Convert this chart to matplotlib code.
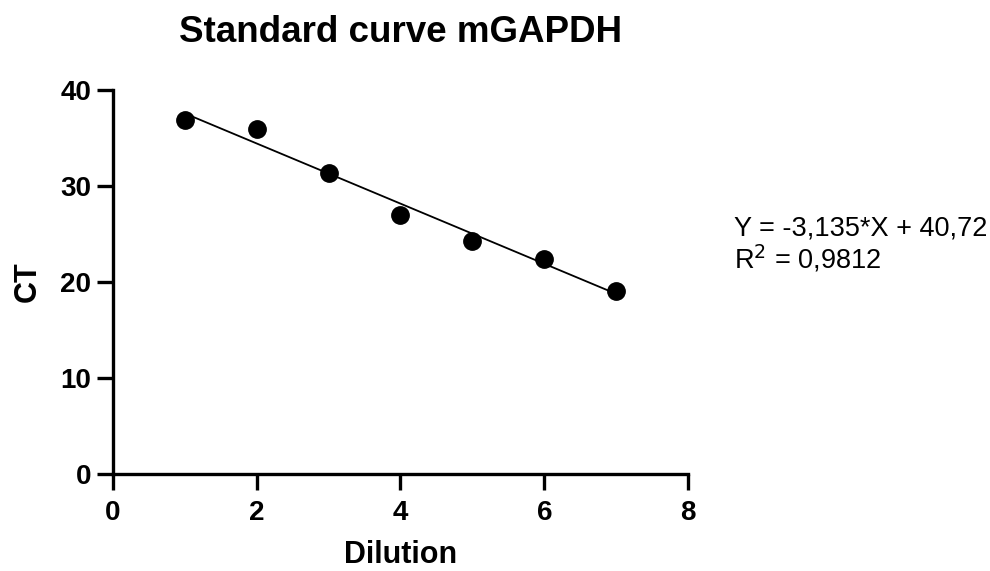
import numpy as np
import matplotlib.pyplot as plt

plt.rcParams['font.family'] = ['Liberation Sans', 'DejaVu Sans']

# données
dilution = [1, 2, 3, 4, 5, 6, 7]
ct = [36.9, 36.0, 31.35, 26.95, 24.25, 22.4, 19.1]
slope, intercept = -3.135, 40.72
r2 = 0.9812
xticks = [0, 2, 4, 6, 8]
yticks = [0, 10, 20, 30, 40]

fig = plt.figure(figsize=(9.9, 5.71), dpi=100)
ax = fig.add_axes([0.114, 0.170, 0.581, 0.672])

# droite de régression
xfit = np.array([dilution[0], dilution[-1]])
ax.plot(xfit, slope * xfit + intercept, color='black', lw=1.3, zorder=2)
ax.plot(dilution, ct, 'o', color='black', ms=12.5, zorder=3)

ax.set_xlim(0, 8)
ax.set_ylim(0, 40)
ax.set_xticks(xticks)
ax.set_yticks(yticks)
for s in ['top', 'right']:
    ax.spines[s].set_visible(False)
for s in ['left', 'bottom']:
    ax.spines[s].set_linewidth(2.4)
ax.tick_params(width=2.4, length=11.5, labelsize=20)
ax.tick_params(axis='x', pad=7)
ax.tick_params(axis='y', pad=4)
for lab in ax.get_xticklabels() + ax.get_yticklabels():
    lab.set_fontweight('bold')

ax.set_xlabel('Dilution', fontsize=22, fontweight='bold', labelpad=10)
ax.set_ylabel('CT', fontsize=22, fontweight='bold', labelpad=13)
ax.set_title('Standard curve mGAPDH', fontsize=26.5, fontweight='bold', pad=35)

eq = 'Y = ' + f'{slope:.3f}'.replace('.', ',') + '*X + ' + f'{intercept:.2f}'.replace('.', ',')
fig.text(0.741, 0.600, eq, fontsize=19.5, va='center')
fig.text(0.741, 0.546, r'R$^2$ = ' + f'{r2:.4f}'.replace('.', ','), fontsize=19.5, va='center')

fig.savefig('out.png', dpi=100)
